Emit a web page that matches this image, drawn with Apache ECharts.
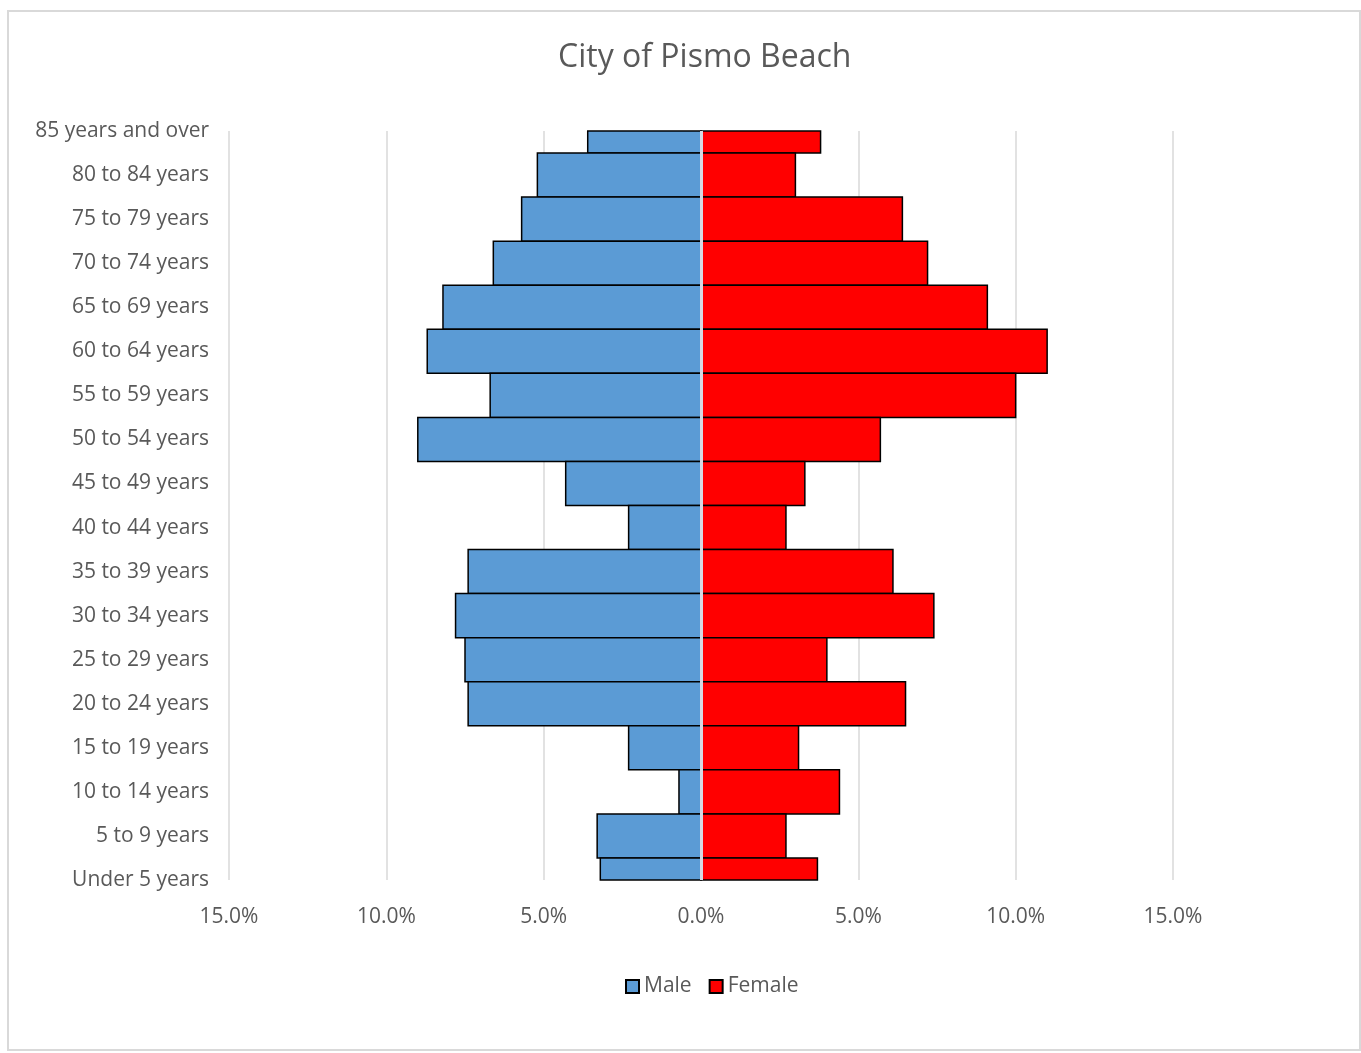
<!DOCTYPE html>
<html>
<head>
<meta charset="utf-8">
<script src="https://cdn.jsdelivr.net/npm/echarts@6/dist/echarts.min.js"></script>
<style>
  html, body { margin: 0; padding: 0; background: #fff; }
  #chart { width: 1361px; height: 1053px; }
</style>
</head>
<body>
<div id="chart"></div>
<script>
// age groups, top to bottom
var ageGroups = ['85 years and over', '80 to 84 years', '75 to 79 years', '70 to 74 years',
  '65 to 69 years', '60 to 64 years', '55 to 59 years', '50 to 54 years', '45 to 49 years',
  '40 to 44 years', '35 to 39 years', '30 to 34 years', '25 to 29 years', '20 to 24 years',
  '15 to 19 years', '10 to 14 years', '5 to 9 years', 'Under 5 years'];
// percent of population (male drawn on the left as negative)
var male = [3.6, 5.2, 5.7, 6.6, 8.2, 8.7, 6.7, 9.0, 4.3, 2.3, 7.4, 7.8, 7.5, 7.4, 2.3, 0.7, 3.3, 3.2];
var female = [3.8, 3.0, 6.4, 7.2, 9.1, 11.0, 10.0, 5.7, 3.3, 2.7, 6.1, 7.4, 4.0, 6.5, 3.1, 4.4, 2.7, 3.7];

var font = '"Open Sans", sans-serif';
var gray = '#595959';

// bars centred on the category ticks, clipped to the plot area (first/last come out half height)
function renderBar(params, api) {
  var cat = api.value(1);
  var p0 = api.coord([0, cat]);
  var p1 = api.coord([api.value(0), cat]);
  var h = api.size([0, 1])[1];
  var cs = params.coordSys;
  var shape = echarts.graphic.clipRectByRect(
    { x: Math.min(p0[0], p1[0]), y: p0[1] - h / 2, width: Math.abs(p1[0] - p0[0]), height: h },
    { x: cs.x, y: cs.y, width: cs.width, height: cs.height }
  );
  return shape && { type: 'rect', shape: shape, style: api.style() };
}

var myChart = echarts.init(document.getElementById('chart'));
var option = {
  textStyle: { fontFamily: font },
  title: {
    text: 'City of Pismo Beach',
    left: 553,
    top: 37,
    textStyle: { color: gray, fontSize: 32, fontWeight: 'normal', fontFamily: font }
  },
  // outer frame
  graphic: [{
    type: 'rect',
    shape: { x: 8, y: 11, width: 1352, height: 1039 },
    style: { fill: 'none', stroke: '#d9d9d9', lineWidth: 2 },
    silent: true
  }],
  legend: {
    bottom: 51,
    left: 620,
    icon: 'rect',
    itemWidth: 13,
    itemHeight: 13,
    itemGap: 17,
    itemTextGap: 6,
    textStyle: { color: gray, fontSize: 21, fontFamily: font },
    data: ['Male', 'Female']
  },
  grid: { left: 229, right: 188, top: 131, bottom: 173, containLabel: false },
  xAxis: {
    type: 'value',
    min: -15,
    max: 15,
    interval: 5,
    axisLine: { show: false },
    axisTick: { show: false },
    axisLabel: {
      color: gray,
      fontSize: 21,
      margin: 27,
      formatter: function (v) { return Math.abs(v).toFixed(1) + '%'; }
    },
    splitLine: { lineStyle: { color: '#d9d9d9', width: 1.5 } }
  },
  yAxis: {
    type: 'category',
    data: ageGroups,
    inverse: true,
    boundaryGap: false,
    axisLine: { show: false, onZero: false },
    axisTick: { show: false },
    axisLabel: { color: gray, fontSize: 21, margin: 20 }
  },
  series: [
    {
      name: 'Male',
      type: 'custom',
      renderItem: renderBar,
      encode: { x: 0, y: 1 },
      data: male.map(function (v, i) { return [-v, i]; }),
      itemStyle: { color: '#5b9bd5', borderColor: '#000', borderWidth: 1.5 }
    },
    {
      name: 'Female',
      type: 'custom',
      renderItem: renderBar,
      encode: { x: 0, y: 1 },
      data: female.map(function (v, i) { return [v, i]; }),
      itemStyle: { color: '#ff0000', borderColor: '#000', borderWidth: 1.5 },
      markLine: {
        silent: true,
        symbol: 'none',
        label: { show: false },
        lineStyle: { color: '#d6dbe2', type: 'solid', width: 3, opacity: 1 },
        data: [{ xAxis: 0 }]
      }
    }
  ]
};
myChart.setOption(option);
</script>
</body>
</html>
